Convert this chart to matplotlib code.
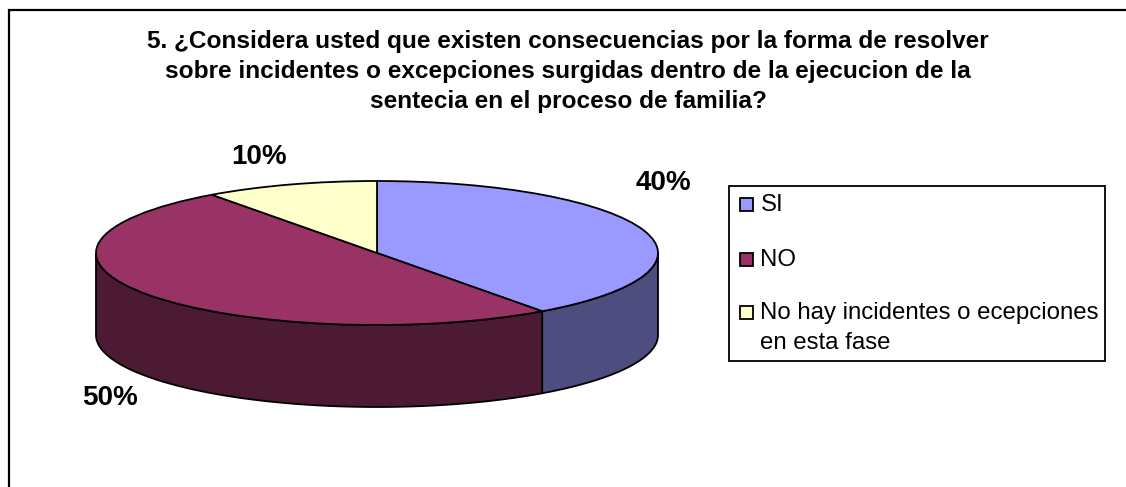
#!/usr/bin/env python3
"""Survey question 5: share of answers, drawn as a tilted 3D-style pie with a legend box."""
import numpy as np
import matplotlib
matplotlib.use("Agg")
import matplotlib.pyplot as plt
from matplotlib.patches import Rectangle

plt.rcParams["font.family"] = ["Liberation Sans", "DejaVu Sans"]

TITLE = ("5. ¿Considera usted que existen consecuencias por la forma de resolver\n"
         "sobre incidentes o excepciones surgidas dentro de la ejecucion de la\n"
         "sentecia en el proceso de familia?")
categories = ["SI", "NO", "No hay incidentes o ecepciones\nen esta fase"]
shares = [40, 50, 10]
value_labels = ["40%", "50%", "10%"]
top_colors = ["#9999FF", "#993366", "#FFFFCC"]
side_colors = ["#4D4D80", "#4D1A33", "#80805F"]

W, H = 1126, 487
CX, CY, RX, RY, DEPTH = 377, 253, 281, 72, 82


def main():
    fig = plt.figure(figsize=(W / 100, H / 100), dpi=100, facecolor="white")
    ax = fig.add_axes([0, 0, 1, 1])
    ax.set_xlim(0, W)
    ax.set_ylim(H, 0)
    ax.axis("off")

    # only the top and left of the chart border fall inside the figure
    ax.plot([8.5, 8.5, W], [H, 9.5, 9.5], color="black", lw=1.6, solid_joinstyle="miter")

    ax.text(568, 71.5, TITLE, ha="center", va="center", fontsize=17.6, fontweight="bold",
            linespacing=1.4, color="black")

    # rim of the pie: only the part of each slice facing the viewer (90-270 deg clockwise from top)
    edges = np.cumsum([0] + shares) / sum(shares) * 360
    for a0, a1, col in zip(edges[:-1], edges[1:], side_colors):
        lo, hi = max(a0, 90), min(a1, 270)
        if hi <= lo:
            continue
        t = np.radians(np.linspace(lo, hi, 120))
        x = CX + RX * np.sin(t)
        y = CY - RY * np.cos(t)
        ax.fill(np.r_[x, x[::-1]], np.r_[y, y[::-1] + DEPTH], fc=col, ec="black", lw=1.3, zorder=2)

    # top face goes in its own axes so the circle squashes into an ellipse
    pie_ax = fig.add_axes([(CX - RX) / W, 1 - (CY + RY) / H, 2 * RX / W, 2 * RY / H])
    pie_ax.patch.set_alpha(0)
    wedges, _ = pie_ax.pie(shares, colors=top_colors, startangle=90, counterclock=False, radius=1,
                           wedgeprops={"edgecolor": "black", "linewidth": 1.3, "clip_on": False})
    pie_ax.set_aspect("auto")
    pie_ax.set_xlim(-1, 1)
    pie_ax.set_ylim(-1, 1)

    label_pos = [(663, 183), (110, 398), (259, 157)]
    for txt, (x, y) in zip(value_labels, label_pos):
        ax.text(x, y, txt, ha="center", va="center", fontsize=20, fontweight="bold", color="black")

    # legend box
    ax.add_patch(Rectangle((729, 186), 376, 175, fc="white", ec="black", lw=1.3))
    legend_y = [204, 259, 312.5]
    for name, col, y in zip(categories, top_colors, legend_y):
        ax.add_patch(Rectangle((740, y - 6.5), 13, 13, fc=col, ec="black", lw=1.3))
        ax.text(760.5, y - 10, name, ha="left", va="top", fontsize=17.25, linespacing=1.44, color="black")

    fig.savefig("out.png", dpi=100)


if __name__ == "__main__":
    main()
